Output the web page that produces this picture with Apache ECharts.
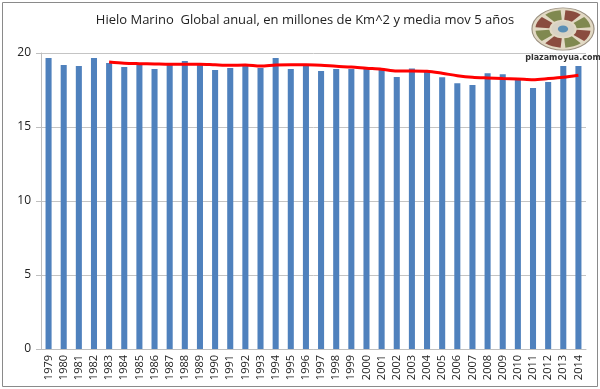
<!DOCTYPE html>
<html>
<head>
<meta charset="utf-8">
<script src="https://cdn.jsdelivr.net/npm/echarts@6/dist/echarts.min.js"></script>
<style>html,body{margin:0;padding:0;background:#fff}#c{width:600px;height:389px}</style>
</head>
<body>
<div id="c"></div>
<script>
var years = ['1979','1980','1981','1982','1983','1984','1985','1986','1987','1988','1989','1990','1991','1992','1993','1994','1995','1996','1997','1998','1999','2000','2001','2002','2003','2004','2005','2006','2007','2008','2009','2010','2011','2012','2013','2014'];
var seaIce = [19.66,19.19,19.12,19.66,19.32,19.05,19.26,18.92,19.32,19.46,19.26,18.85,18.99,19.19,18.99,19.66,18.92,19.12,18.78,18.92,18.92,18.92,18.85,18.38,18.96,18.85,18.36,17.95,17.84,18.63,18.56,18.20,17.64,18.04,19.12,19.12];
var movAvg5 = [null,null,null,null,19.39,19.31,19.28,19.26,19.24,19.24,19.24,19.20,19.17,19.19,19.12,19.19,19.21,19.20,19.17,19.10,19.05,18.97,18.90,18.78,18.78,18.76,18.63,18.47,18.36,18.31,18.27,18.25,18.20,18.27,18.36,18.50];
var yTicks = [0,5,10,15,20];

var chart = echarts.init(document.getElementById('c'), null, {renderer:'canvas'});
var font = 'Open Sans';
var logoCx = 563, logoCy = 29;
var segs = [];
var segColors = ['#7a3328','#6e7a3c','#7a3328','#6e7a3c','#7a3328','#6e7a3c','#7a3328','#6e7a3c'];
for (var i = 0; i < 8; i++) {
  var a0 = (i * 45 + 5) * Math.PI / 180, a1 = ((i + 1) * 45 - 5) * Math.PI / 180;
  segs.push({type:'sector', shape:{cx:0, cy:0, r0:12, r:24, startAngle:a0, endAngle:a1}, style:{fill:segColors[i], opacity:0.85}});
}
chart.setOption({
  animation:false,
  title:{text:'Hielo Marino  Global anual, en millones de Km^2 y media mov 5 años', left:300, top:9, textAlign:'center',
    textStyle:{fontFamily:font, fontSize:13, fontWeight:'normal', color:'#222'}},
  grid:{left:41, right:14, top:53, bottom:40},
  xAxis:{type:'category', data:years,
    axisLine:{lineStyle:{color:'#bfbfbf'}}, axisTick:{show:false},
    axisLabel:{rotate:90, interval:0, fontFamily:font, fontSize:11, color:'#222', margin:6}},
  yAxis:{type:'value', min:yTicks[0], max:yTicks[yTicks.length-1], interval:5,
    axisLine:{show:true, lineStyle:{color:'#bfbfbf'}}, axisTick:{show:true, length:5, lineStyle:{color:'#bfbfbf'}},
    splitLine:{lineStyle:{color:'#c4c4c4'}},
    axisLabel:{fontFamily:font, fontSize:12, color:'#222', margin:10}},
  series:[
    {type:'bar', data:seaIce, barWidth:'40%', itemStyle:{color:'#4f81bd'}},
    {type:'line', data:movAvg5, smooth:0.3, symbol:'none', lineStyle:{color:'#ff0000', width:3}, z:5}
  ],
  graphic:[
    {type:'rect', shape:{x:2.5, y:2.5, width:595, height:384}, style:{fill:'none', stroke:'#8a8a8a', lineWidth:1}, silent:true},
    {type:'group', x:logoCx, y:logoCy, scaleX:1.15, scaleY:0.78, children:[
      {type:'circle', shape:{cx:0, cy:0, r:27}, style:{fill:'#e2d9c4', stroke:'#9a9080', lineWidth:1}},
      ].concat(segs).concat([
      {type:'circle', shape:{cx:0, cy:0, r:10}, style:{fill:'#d8d2c4'}},
      {type:'circle', shape:{cx:0, cy:0, r:4.5}, style:{fill:'#5b8fb5'}}
    ])},
    {type:'text', x:563, y:58, style:{text:'plazamoyua.com', fontFamily:'DejaVu Sans', fontSize:8, fontWeight:'bold', fill:'#333', align:'center', verticalAlign:'middle'}}
  ]
});
</script>
</body>
</html>
